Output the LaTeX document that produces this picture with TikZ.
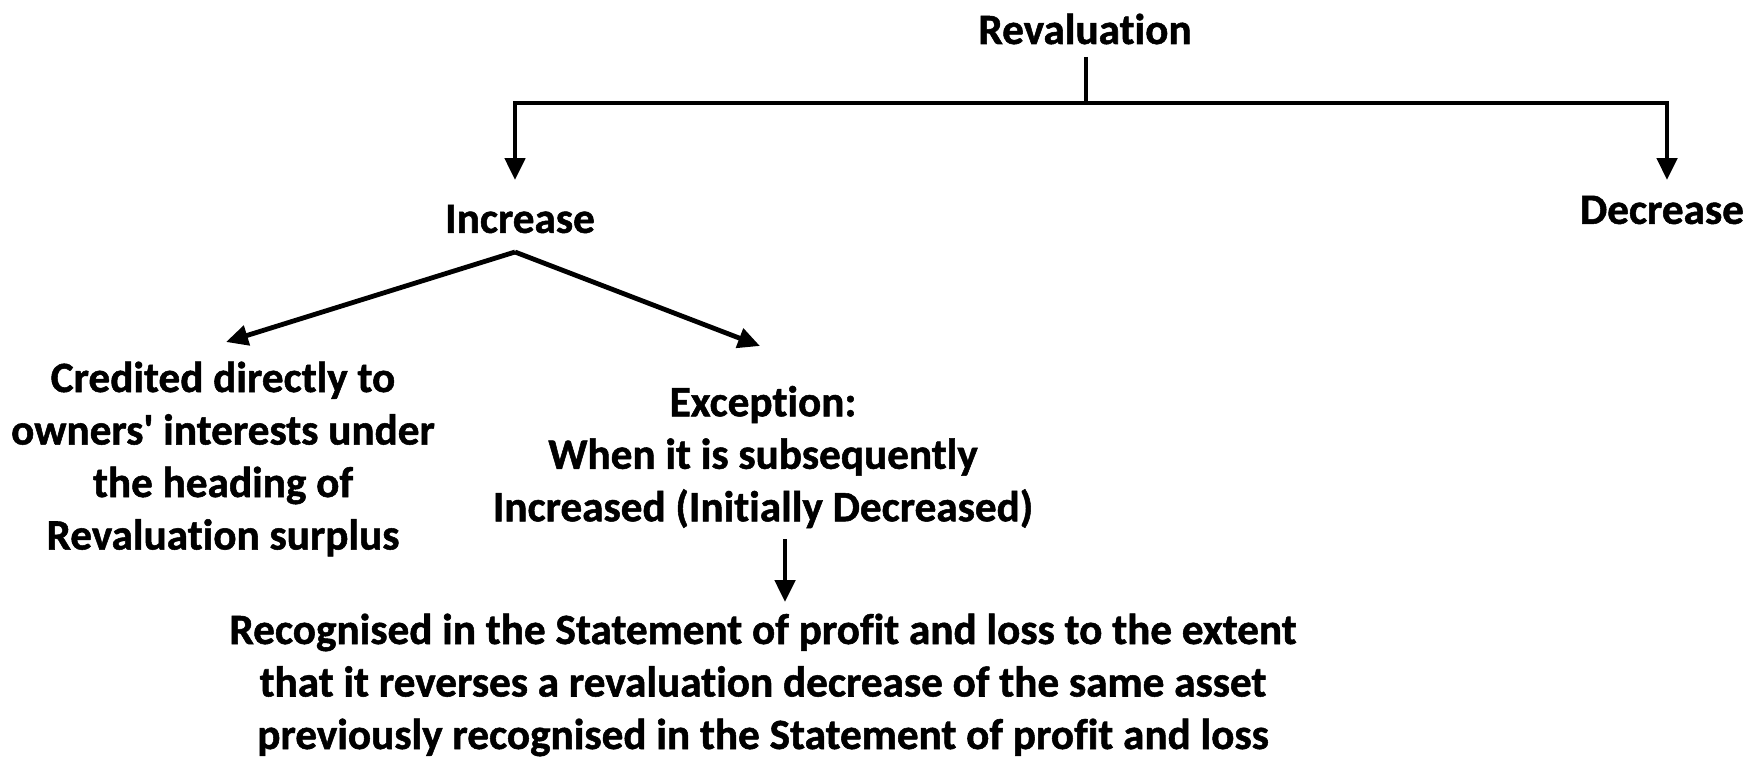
\documentclass[tikz,border=0pt]{standalone}
\usepackage{fontspec}
\setmainfont{Carlito}[Ligatures={NoCommon}, BoldFeatures={FakeBold=1.2}]
\usetikzlibrary{arrows.meta}
\begin{document}
\begin{tikzpicture}[x=1pt,y=-1pt,
  lbl/.style={font=\fontsize{43.2}{52.5}\selectfont\bfseries, align=center, inner sep=0pt},
  conn/.style={line width=4.8pt, line join=miter},
  arr/.style={conn, -{Triangle[width=20pt,length=22pt]}}]
  \fill[white] (0,0) rectangle (1751,760);
  \useasboundingbox (0,0) rectangle (1751,760);

  % headings
  \node[lbl] (rev) at (1085,29) {Revaluation};
  \node[lbl] (inc) at (520,219) {Increase};
  \node[lbl] (dec) at (1662,210) {Decrease};

  % branches of an increase
  \node[lbl] (cred) at (223,459) {Credited directly to\\owners\textquotesingle{} interests under\\the heading of\\Revaluation surplus};
  \node[lbl] (exc) at (763,457) {Exception:\\When it is subsequently\\Increased (Initially Decreased)};
  \node[lbl] (rec) at (763,685) {Recognised in the Statement of profit and loss to the extent\\that it reverses a revaluation decrease of the same asset\\previously recognised in the Statement of profit and loss};

  % connector end points
  \coordinate (rtop) at (1086,57);
  \coordinate (rmid) at (1086,103);
  \coordinate (inctip) at (515,180);
  \coordinate (dectip) at (1667,180);
  \coordinate (ibot) at (515,252);
  \coordinate (credtip) at (226,342);
  \coordinate (exctip) at (760,346);
  \coordinate (etop) at (785,539);
  \coordinate (rectip) at (785,602);

  \draw[conn] (rtop) -- (rmid);
  \draw[arr] (rmid) -| (inctip);
  \draw[arr] (rmid) -| (dectip);
  \draw[arr] (ibot) -- (credtip);
  \draw[arr] (ibot) -- (exctip);
  \draw[arr] (etop) -- (rectip);
\end{tikzpicture}
\end{document}
